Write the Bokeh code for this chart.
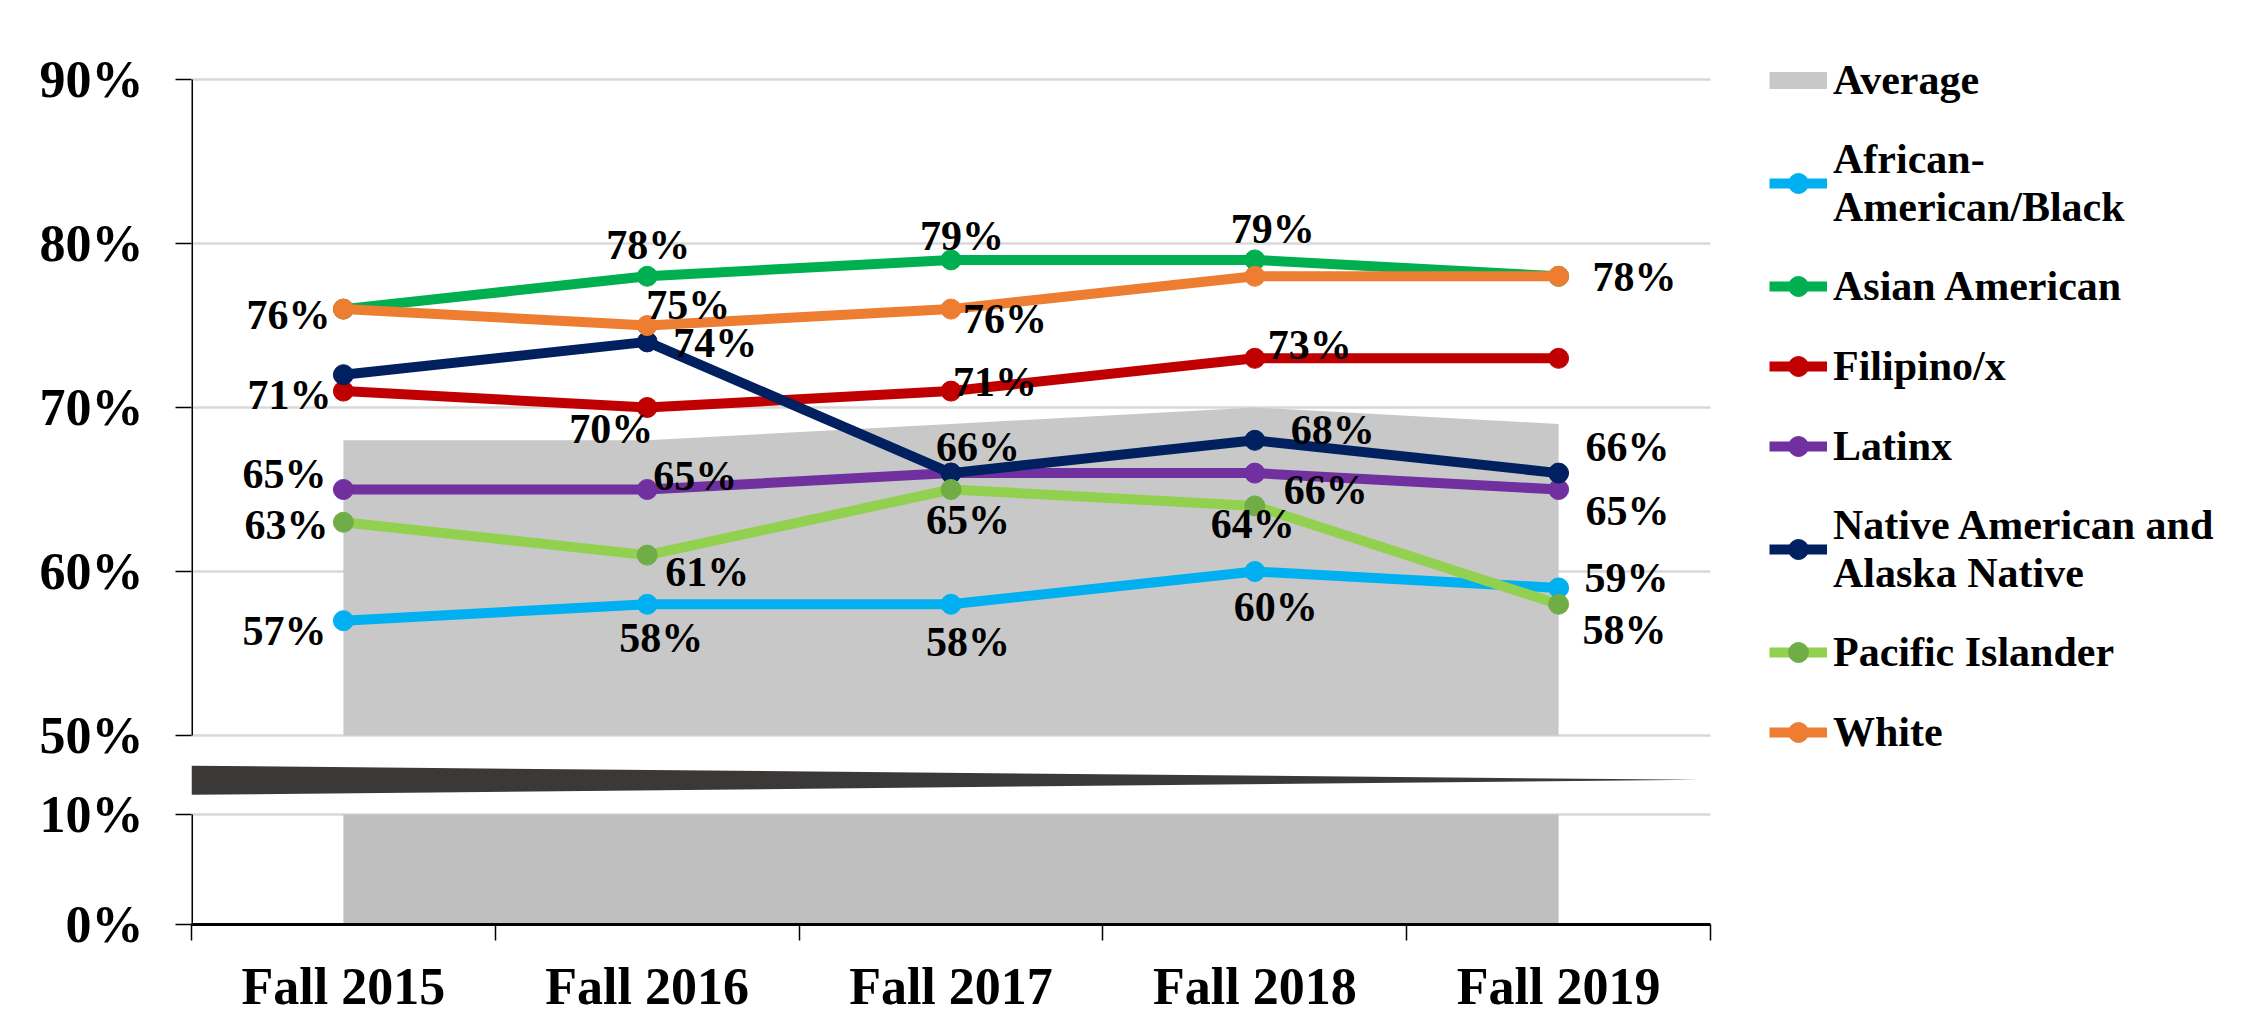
from bokeh.plotting import figure
from bokeh.models import (Range1d, FixedTicker, Legend, LegendItem,
                          ColumnDataSource, PrintfTickFormatter)
from bokeh.core.properties import value
from bokeh.embed import file_html
from bokeh.resources import INLINE

# ---------------- data ----------------
categories = ["Fall 2015", "Fall 2016", "Fall 2017", "Fall 2018", "Fall 2019"]
average = [68, 68, 69, 70, 69]
african_american = [57, 58, 58, 60, 59]
asian_american = [76, 78, 79, 79, 78]
filipino = [71, 70, 71, 73, 73]
latinx = [65, 65, 66, 66, 65]
native_american = [72, 74, 66, 68, 66]
pacific_islander = [63, 61, 65, 64, 58]
white = [76, 75, 76, 78, 78]
upper_ticks = [50, 60, 70, 80, 90]
lower_ticks = [0, 10]
legend_labels = ["Average", "African-\nAmerican/Black", "Asian American", "Filipino/x",
                 "Latinx", "Native American and\nAlaska Native", "Pacific Islander", "White"]

# ---------------- styles ----------------
FONT = "Liberation Serif"
series = [
    (african_american, "#00B0F0", "#00B0F0"),
    (asian_american, "#00B050", "#00B050"),
    (filipino, "#C00000", "#C00000"),
    (latinx, "#7030A0", "#7030A0"),
    (native_american, "#002060", "#002060"),
    (pacific_islander, "#92D050", "#70AD47"),
    (white, "#ED7D31", "#ED7D31"),
]
# data label offsets in screen px (dx, dy down); None = no label shown
label_offsets = [
    [(-59, 10), (14, 34), (17, 38), (21, 35), (68, -10)],
    [None, (1, -31), (11, -24), (18, -31), None],
    [(-54, 4), (-36, 21), (44, -9), (55, -13), None],
    [(-59, -16), (48, -14), None, (71, 17), (69, 21)],
    [None, (68, 1), (27, -26), (78, -10), (69, -26)],
    [(-57, 3), (60, 17), (17, 30), (-2, 18), (66, 26)],
    [(-55, 6), (41, -21), (54, 10), None, (76, 1)],
]

# layout (px)
FIG_W, FIG_H = 2251, 1021
LEFT, BOTTOM = 191, 97
FRAME_TOP = 40           # frame reaches above the plot so the legend is not clipped
PLOT_TOP = 79            # pixel row of the top tick
PLOT_W = 1519            # width of the category area
FRAME_W = 2049           # frame also hosts the legend on its right
PX_UPPER = 16.4          # px per percentage point in the upper panel
PX_LOWER = 11.0          # px per percentage point in the lower panel
BREAK_PX = 79            # px between the upper panel's bottom tick and the lower panel's top tick
n = len(categories)
x_end = n * FRAME_W / PLOT_W
frame_h = FIG_H - BOTTOM - FRAME_TOP

# broken axis geometry: upper panel in real units, lower panel on its own range
y_end = upper_ticks[-1] + (PLOT_TOP - FRAME_TOP) / PX_UPPER
lower_px = PX_LOWER * (lower_ticks[-1] - lower_ticks[0])
y_start = upper_ticks[0] - (BREAK_PX + lower_px) / PX_UPPER
low_end = lower_ticks[0] + frame_h / PX_LOWER

def lower_pos(t):
    return y_start + (t - lower_ticks[0]) * PX_LOWER / PX_UPPER

xs = [i + 0.5 for i in range(n)]

p = figure(width=FIG_W, height=FIG_H, output_backend="svg", toolbar_location=None,
           x_range=Range1d(0, x_end),
           y_range=Range1d(y_start, y_end),
           min_border_left=LEFT, min_border_right=FIG_W - LEFT - FRAME_W,
           min_border_top=FRAME_TOP, min_border_bottom=BOTTOM)
p.extra_y_ranges = {"low": Range1d(lower_ticks[0], low_end)}
p.outline_line_color = None
p.background_fill_color = "white"
p.styles = {"outline": "2px solid #D9D9D9", "outline-offset": "-4px"}

# y axis (single axis showing both panels)
yt = FixedTicker(ticks=[lower_pos(t) for t in lower_ticks] + upper_ticks, minor_ticks=[])
p.yaxis.ticker = yt
p.yaxis.formatter = PrintfTickFormatter(format="%d%%")
p.yaxis.major_label_overrides = {lower_pos(t): f"{t}%" for t in lower_ticks}
p.yaxis.axis_line_color = None
p.yaxis.major_tick_out = 16
p.yaxis.major_tick_in = 0
p.yaxis.major_tick_line_color = "black"
p.yaxis.major_tick_line_width = 1.5
p.yaxis.minor_tick_line_color = None
p.yaxis.major_label_standoff = 32
p.yaxis.major_label_text_font = FONT
p.yaxis.major_label_text_font_style = "bold"
p.yaxis.major_label_text_font_size = "52px"
p.yaxis.major_label_text_color = "black"
p.ygrid.grid_line_color = None
p.xgrid.grid_line_color = None

# x axis: labels centred on categories, ticks on category boundaries
p.xaxis.bounds = (0, n)
p.xaxis.ticker = FixedTicker(ticks=xs, minor_ticks=list(range(n + 1)))
p.xaxis.major_label_overrides = {x: c for x, c in zip(xs, categories)}
p.xaxis.axis_line_color = "black"
p.xaxis.axis_line_width = 3
p.xaxis.major_tick_out = 0
p.xaxis.major_tick_in = 0
p.xaxis.major_tick_line_color = None
p.xaxis.minor_tick_out = 16
p.xaxis.minor_tick_in = 0
p.xaxis.minor_tick_line_color = "black"
p.xaxis.minor_tick_line_width = 1.5
p.xaxis.major_label_standoff = 17
p.xaxis.major_label_text_font = FONT
p.xaxis.major_label_text_font_style = "bold"
p.xaxis.major_label_text_font_size = "52px"
p.xaxis.major_label_text_color = "black"

# horizontal gridlines limited to the category area
p.segment(x0=[0] * len(upper_ticks), x1=[n] * len(upper_ticks), y0=upper_ticks,
          y1=upper_ticks, line_color="#D9D9D9", line_width=2.5)
p.segment(x0=[0] * len(lower_ticks), x1=[n] * len(lower_ticks), y0=lower_ticks,
          y1=lower_ticks, line_color="#D9D9D9", line_width=2.5, y_range_name="low")

# y axis line segments with the break
p.segment(x0=[0], y0=[upper_ticks[0]], x1=[0], y1=[upper_ticks[-1]],
          line_color="black", line_width=3)
p.segment(x0=[0], y0=[lower_ticks[0]], x1=[0], y1=[lower_ticks[-1]],
          line_color="black", line_width=3, y_range_name="low")

# average area, upper and lower parts
p.varea(x=xs, y1=[upper_ticks[0]] * n, y2=average, fill_color="#C8C8C8")
p.varea(x=xs, y1=[lower_ticks[0]] * n, y2=[min(a, lower_ticks[-1]) for a in average],
        fill_color="#BFBFBF", y_range_name="low")

# break wedge (decoration)
p.patch(x=[0, 4.96, 0], y=[14.43, 13.15, 11.79], fill_color="#3B3838",
        line_color=None, y_range_name="low")

items = []
avg_leg = p.line(x=[float("nan")], y=[float("nan")], line_color="#C8C8C8",
                 line_width=17, line_cap="butt")
items.append(LegendItem(label=legend_labels[0], renderers=[avg_leg]))

lab_x, lab_y, lab_t, lab_dx, lab_dy = [], [], [], [], []
for (vals, lc, mc), offs, lab in zip(series, label_offsets, legend_labels[1:]):
    rl = p.line(x=xs, y=vals, line_color=lc, line_width=10, line_join="round")
    rs = p.scatter(x=xs, y=vals, size=20, fill_color=mc, line_color=mc)
    items.append(LegendItem(label=lab, renderers=[rl, rs]))
    for x, v, o in zip(xs, vals, offs):
        if o is None:
            continue
        lab_x.append(x); lab_y.append(v); lab_t.append(f"{v}%")
        lab_dx.append(o[0]); lab_dy.append(o[1])

src = ColumnDataSource(dict(x=lab_x, y=lab_y, t=lab_t, dx=lab_dx, dy=lab_dy))
p.text(x="x", y="y", text="t", x_offset="dx", y_offset="dy", source=src,
       text_font=value(FONT), text_font_style="bold", text_font_size="42px",
       text_align="center", text_baseline="middle", text_color="black")

legend = Legend(items=items, location=(1578, 167), orientation="vertical",
                label_text_font=FONT, label_text_font_style="bold",
                label_text_font_size="42px", label_text_color="black",
                glyph_width=58, glyph_height=50, label_standoff=6,
                spacing=30, padding=0, margin=0,
                border_line_color=None, background_fill_alpha=0)
p.add_layout(legend)

open("out.html", "w").write(file_html(p, INLINE))
